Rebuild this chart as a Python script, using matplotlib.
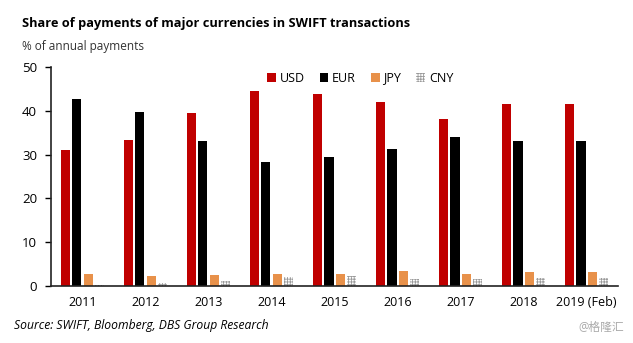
import matplotlib.pyplot as plt
import numpy as np

# data
years = ["2011", "2012", "2013", "2014", "2015", "2016", "2017", "2018", "2019 (Feb)"]
usd = [31.0, 33.3, 39.5, 44.6, 43.9, 42.1, 38.0, 41.6, 41.6]
eur = [42.6, 39.7, 33.1, 28.2, 29.4, 31.3, 34.0, 33.0, 33.0]
jpy = [2.7, 2.4, 2.6, 2.7, 2.7, 3.4, 2.7, 3.3, 3.3]
cny = [0.3, 0.6, 1.1, 2.0, 2.2, 1.7, 1.6, 1.9, 1.9]

plt.rcParams["font.family"] = ["Open Sans", "Noto Sans CJK SC", "DejaVu Sans"]
plt.rcParams["hatch.linewidth"] = 0.6

fig = plt.figure(figsize=(6.33, 3.43), dpi=100)
ax = fig.add_axes([0.0806, 0.166, 0.896, 0.639])

x = np.arange(len(years))
w = 0.145
step = 0.18
ax.bar(x - 1.5 * step, usd, w, color="#C00000", label="USD")
ax.bar(x - 0.5 * step, eur, w, color="#000000", label="EUR")
ax.bar(x + 0.5 * step, jpy, w, color="#E8914A", label="JPY")
ax.bar(x + 1.5 * step, cny, w, color="white", edgecolor="#9a9a9a",
       hatch="++++++", linewidth=0, label="CNY")

ax.set_xlim(-0.5, len(years) - 0.5)
ax.set_ylim(0, 50)
ax.set_yticks(np.arange(0, 51, 10))
ax.set_xticks(x)
ax.set_xticklabels(years, fontsize=9)
ax.tick_params(axis="x", length=0, pad=7)
ax.tick_params(axis="y", labelsize=9.5, length=4, width=1, direction="out", pad=6)
for s in ["top", "right"]:
    ax.spines[s].set_visible(False)
for s in ["left", "bottom"]:
    ax.spines[s].set_linewidth(1.2)
    ax.spines[s].set_color("#222222")

ax.legend(loc="upper center", bbox_to_anchor=(0.545, 1.03), ncol=4, frameon=False,
          fontsize=9, handlelength=0.7, handleheight=0.7, handletextpad=0.3,
          columnspacing=1.2)

fig.text(0.035, 0.92, "Share of payments of major currencies in SWIFT transactions",
         fontsize=9.2, fontweight="bold")
fig.text(0.035, 0.855, "% of annual payments", fontsize=8.5, color="#333333")
fig.text(0.022, 0.04, "Source: SWIFT, Bloomberg, DBS Group Research",
         fontsize=8.7, style="italic")
fig.text(0.985, 0.035, "@格隆汇", fontsize=8.5, color="#aaaaaa", ha="right")

fig.savefig("out.png", dpi=100)
